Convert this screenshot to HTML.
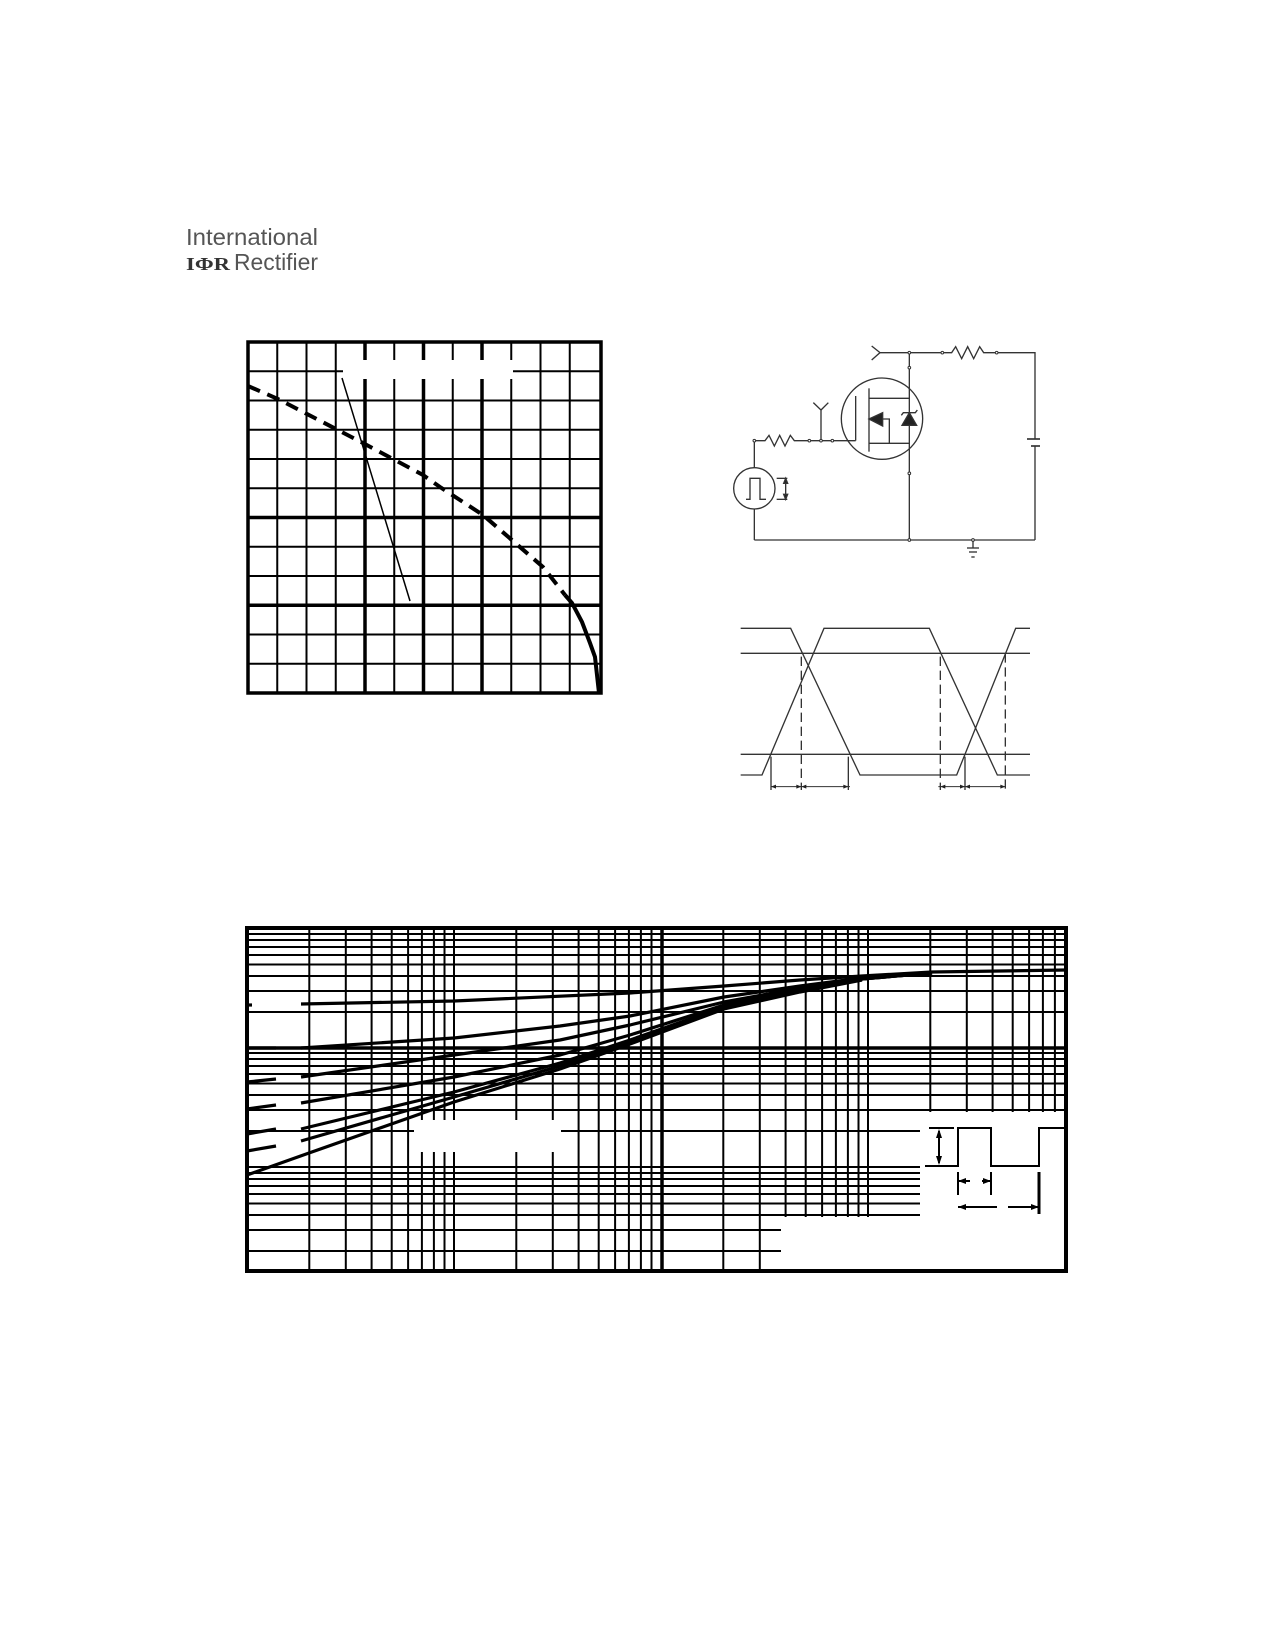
<!DOCTYPE html>
<html><head><meta charset="utf-8"><style>html,body{margin:0;padding:0;background:#fff}svg{display:block}</style></head>
<body>
<svg width="1275" height="1650" viewBox="0 0 1275 1650" xmlns="http://www.w3.org/2000/svg">
<rect width="1275" height="1650" fill="#fff"/>
<!-- Logo -->
<text x="186" y="245" font-family="Liberation Sans, sans-serif" font-size="23" fill="#555" textLength="132" lengthAdjust="spacingAndGlyphs">International</text>
<text x="186" y="270" font-family="Liberation Serif, serif" font-weight="bold" font-size="18" fill="#333" textLength="44" lengthAdjust="spacingAndGlyphs">IΦR</text>
<text x="234" y="270" font-family="Liberation Sans, sans-serif" font-size="23" fill="#555" textLength="84" lengthAdjust="spacingAndGlyphs">Rectifier</text>

<!-- Top-left chart -->
<g stroke="#000" fill="none">
<g stroke-width="2">
<line x1="277.25" y1="342" x2="277.25" y2="693"/><line x1="306.5" y1="342" x2="306.5" y2="693"/><line x1="335.75" y1="342" x2="335.75" y2="693"/>
<line x1="394.25" y1="342" x2="394.25" y2="693"/><line x1="452.75" y1="342" x2="452.75" y2="693"/><line x1="511.25" y1="342" x2="511.25" y2="693"/>
<line x1="540.5" y1="342" x2="540.5" y2="693"/><line x1="569.75" y1="342" x2="569.75" y2="693"/>
<line x1="248" y1="371.25" x2="601" y2="371.25"/><line x1="248" y1="400.5" x2="601" y2="400.5"/><line x1="248" y1="429.75" x2="601" y2="429.75"/>
<line x1="248" y1="459" x2="601" y2="459"/><line x1="248" y1="488.25" x2="601" y2="488.25"/><line x1="248" y1="546.75" x2="601" y2="546.75"/>
<line x1="248" y1="576" x2="601" y2="576"/><line x1="248" y1="634.5" x2="601" y2="634.5"/><line x1="248" y1="663.75" x2="601" y2="663.75"/>
</g>
<g stroke-width="3.5">
<line x1="365" y1="342" x2="365" y2="693"/><line x1="423.5" y1="342" x2="423.5" y2="693"/><line x1="482" y1="342" x2="482" y2="693"/>
<line x1="248" y1="517.5" x2="601" y2="517.5"/><line x1="248" y1="605.25" x2="601" y2="605.25"/>
</g>
<rect x="343" y="360" width="170" height="19" fill="#fff" stroke="none"/>
<rect x="248" y="342" width="353" height="351" stroke-width="3.5"/>
<line x1="342" y1="378" x2="410" y2="601" stroke-width="1.5"/>
<polyline points="248,386 278,399 363,443 423,475 440,487 483,515 543,567 565,595" stroke-width="4" stroke-dasharray="13,8"/>
<polyline points="565,595 572,603 582,622 590,643 595,657 599,693" stroke-width="4"/>
</g>

<!-- Circuit -->
<g transform="translate(690,320) scale(0.33333)" stroke="#333" fill="none" stroke-width="4">
<polyline points="545,78 570,98 545,120"/>
<line x1="570" y1="98" x2="757" y2="98"/>
<polyline points="757,98 785,98 797,80 815,116 833,80 851,116 869,80 881,98 920,98 1035,98 1035,357"/>
<line x1="1035" y1="378" x2="1035" y2="660"/>
<line x1="1011" y1="357" x2="1050" y2="357" stroke-width="5"/>
<line x1="1023" y1="378" x2="1050" y2="378" stroke-width="5"/>
<line x1="658" y1="98" x2="658" y2="660"/>
<line x1="193" y1="660" x2="1035" y2="660"/>
<line x1="849" y1="660" x2="849" y2="684"/>
<line x1="831" y1="684" x2="867" y2="684"/><line x1="837" y1="696" x2="861" y2="696"/><line x1="844" y1="711" x2="854" y2="711"/>
<circle cx="576" cy="296" r="122"/>
<line x1="497" y1="228" x2="497" y2="362"/>
<line x1="537" y1="205" x2="537" y2="395"/>
<line x1="537" y1="235" x2="658" y2="235"/>
<line x1="537" y1="370" x2="658" y2="370"/>
<polygon points="537,297 578,278 578,318" fill="#222"/>
<polyline points="578,297 598,297 598,370"/>
<polygon points="658,278 636,316 680,316" fill="#222"/>
<polyline points="634,286 640,278 676,278 682,270"/>
<polyline points="193,443 193,362 225,362 237,346 253,378 269,346 285,378 301,346 313,362 497,362"/>
<polyline points="393,362 393,270 370,248"/><line x1="393" y1="270" x2="415" y2="248"/>
<circle cx="193" cy="505" r="62"/>
<line x1="193" y1="567" x2="193" y2="660"/>
<polyline points="168,538 180,538 180,475 210,475 210,538 228,538"/>
<line x1="260" y1="475" x2="292" y2="475"/><line x1="260" y1="538" x2="292" y2="538"/>
<line x1="287" y1="485" x2="287" y2="528"/>
<polygon points="287,475 281,490 293,490" fill="#222"/><polygon points="287,538 281,523 293,523" fill="#222"/>
<g fill="#fff" stroke-width="3">
<circle cx="658" cy="98" r="4"/><circle cx="757" cy="98" r="4"/><circle cx="920" cy="98" r="4"/>
<circle cx="658" cy="143" r="4"/><circle cx="658" cy="460" r="4"/><circle cx="658" cy="660" r="4"/><circle cx="849" cy="660" r="4"/>
<circle cx="193" cy="362" r="4"/><circle cx="358" cy="362" r="4"/><circle cx="393" cy="362" r="4"/><circle cx="427" cy="362" r="4"/>
</g>
</g>

<!-- Switching waveform -->
<g transform="translate(720,600) scale(0.33333)" stroke="#333" fill="none" stroke-width="4">
<line x1="62" y1="160" x2="930" y2="160"/><line x1="62" y1="463" x2="930" y2="463"/>
<polyline points="62,85 212,85 420,525 710,525 887,85 930,85"/>
<polyline points="62,525 126,525 312,85 628,85 832,525 930,525"/>
<g stroke-dasharray="28,14">
<line x1="244" y1="170" x2="244" y2="570"/><line x1="661" y1="170" x2="661" y2="570"/><line x1="856" y1="160" x2="856" y2="570"/>
</g>
<line x1="153" y1="470" x2="153" y2="570"/><line x1="385" y1="470" x2="385" y2="570"/><line x1="735" y1="470" x2="735" y2="570"/>
<line x1="153" y1="560" x2="856" y2="560" stroke-width="3"/>
<rect x="390" y="550" width="265" height="20" fill="#fff" stroke="none"/>
<g fill="#222" stroke="none">
<polygon points="153,560 168,554 168,566"/><polygon points="244,560 229,554 229,566"/>
<polygon points="244,560 259,554 259,566"/><polygon points="385,560 370,554 370,566"/>
<polygon points="661,560 676,554 676,566"/><polygon points="735,560 720,554 720,566"/>
<polygon points="735,560 750,554 750,566"/><polygon points="856,560 841,554 841,566"/>
</g>
</g>

<!-- Bottom chart -->
<g stroke="#000" fill="none" stroke-width="2">
<g>
<line x1="309.3" y1="928" x2="309.3" y2="1271"/><line x1="345.8" y1="928" x2="345.8" y2="1271"/><line x1="371.6" y1="928" x2="371.6" y2="1271"/><line x1="391.7" y1="928" x2="391.7" y2="1271"/><line x1="408.1" y1="928" x2="408.1" y2="1271"/><line x1="421.9" y1="928" x2="421.9" y2="1271"/><line x1="433.9" y1="928" x2="433.9" y2="1271"/><line x1="444.5" y1="928" x2="444.5" y2="1271"/><line x1="454" y1="928" x2="454" y2="1271"/>
<line x1="516.3" y1="928" x2="516.3" y2="1271"/><line x1="552.8" y1="928" x2="552.8" y2="1271"/><line x1="578.6" y1="928" x2="578.6" y2="1271"/><line x1="598.7" y1="928" x2="598.7" y2="1271"/><line x1="615.1" y1="928" x2="615.1" y2="1271"/><line x1="628.9" y1="928" x2="628.9" y2="1271"/><line x1="640.9" y1="928" x2="640.9" y2="1271"/><line x1="651.5" y1="928" x2="651.5" y2="1271"/>
<line x1="723.3" y1="928" x2="723.3" y2="1271"/><line x1="759.8" y1="928" x2="759.8" y2="1271"/><line x1="785.6" y1="928" x2="785.6" y2="1271"/><line x1="805.7" y1="928" x2="805.7" y2="1271"/><line x1="822.1" y1="928" x2="822.1" y2="1271"/><line x1="835.9" y1="928" x2="835.9" y2="1271"/><line x1="847.9" y1="928" x2="847.9" y2="1271"/><line x1="858.5" y1="928" x2="858.5" y2="1271"/><line x1="868" y1="928" x2="868" y2="1271"/>
<line x1="930.3" y1="928" x2="930.3" y2="1271"/><line x1="966.8" y1="928" x2="966.8" y2="1271"/><line x1="992.6" y1="928" x2="992.6" y2="1271"/><line x1="1012.7" y1="928" x2="1012.7" y2="1271"/><line x1="1029.1" y1="928" x2="1029.1" y2="1271"/><line x1="1042.9" y1="928" x2="1042.9" y2="1271"/><line x1="1054.9" y1="928" x2="1054.9" y2="1271"/>
<line x1="662" y1="928" x2="662" y2="1271" stroke-width="3.5"/>
</g>
<g>
<line x1="247" y1="1012" x2="1066" y2="1012"/><line x1="247" y1="991" x2="1066" y2="991"/><line x1="247" y1="976" x2="1066" y2="976"/><line x1="247" y1="964.5" x2="1066" y2="964.5"/><line x1="247" y1="955" x2="1066" y2="955"/><line x1="247" y1="947" x2="1066" y2="947"/><line x1="247" y1="940" x2="1066" y2="940"/><line x1="247" y1="934" x2="1066" y2="934"/>
<line x1="247" y1="1131" x2="1066" y2="1131"/><line x1="247" y1="1110" x2="1066" y2="1110"/><line x1="247" y1="1095" x2="1066" y2="1095"/><line x1="247" y1="1083.5" x2="1066" y2="1083.5"/><line x1="247" y1="1074" x2="1066" y2="1074"/><line x1="247" y1="1066" x2="1066" y2="1066"/><line x1="247" y1="1059" x2="1066" y2="1059"/><line x1="247" y1="1053" x2="1066" y2="1053"/>
<line x1="247" y1="1167" x2="1066" y2="1167"/>
<line x1="247" y1="1251" x2="1066" y2="1251"/><line x1="247" y1="1230" x2="1066" y2="1230"/><line x1="247" y1="1215" x2="1066" y2="1215"/><line x1="247" y1="1203.5" x2="1066" y2="1203.5"/><line x1="247" y1="1194" x2="1066" y2="1194"/><line x1="247" y1="1186" x2="1066" y2="1186"/><line x1="247" y1="1179" x2="1066" y2="1179"/><line x1="247" y1="1173" x2="1066" y2="1173"/>
<line x1="247" y1="1048" x2="1066" y2="1048" stroke-width="3.5"/>
</g>
<g fill="#fff" stroke="none">
<rect x="920" y="1112" width="146" height="159"/>
<rect x="781" y="1217" width="285" height="54"/>
<rect x="414" y="1120" width="147" height="32"/>
</g>
<g stroke-width="3.2" stroke-linejoin="round" stroke-linecap="butt">
<polyline points="301,1004 454,1001 630,993 724,986 800,980 862,976 932,972 1066,970"/>
<polyline points="301,1048 454,1038 560,1026 630,1016 724,997 800,986 862,978 932,973"/>
<polyline points="301,1077 454,1055 560,1040 630,1025 724,1002 800,988 862,979 932,973"/>
<polyline points="301,1103 454,1077 560,1055 630,1035 724,1005 800,989 862,979 932,973"/>
<polyline points="301,1129 454,1092 560,1063 630,1040 724,1007 800,990 862,979 932,973"/>
<polyline points="301,1141 454,1097 560,1066 630,1042 724,1008 800,991 862,979"/>
<polyline points="247,1175 309,1153 454,1102 560,1069 630,1044 724,1009 800,992 862,980"/>
<line x1="247" y1="1005" x2="252" y2="1005"/>
<line x1="247" y1="1048" x2="276" y2="1048"/>
<line x1="247" y1="1082" x2="276" y2="1079"/>
<line x1="247" y1="1109" x2="276" y2="1105"/>
<line x1="247" y1="1134" x2="276" y2="1129"/>
<line x1="247" y1="1151" x2="276" y2="1146"/>
</g>
<g stroke-width="2">
<polyline points="925,1166 958,1166 958,1128 991,1128 991,1166 1039,1166 1039,1128 1066,1128"/>
<line x1="929" y1="1128" x2="954" y2="1128"/>
<line x1="939" y1="1131" x2="939" y2="1163"/>
<line x1="958" y1="1172" x2="958" y2="1195"/><line x1="991" y1="1172" x2="991" y2="1195"/>
<line x1="1039" y1="1172" x2="1039" y2="1214" stroke-width="3"/>
<line x1="958" y1="1181" x2="970" y2="1181"/><line x1="982" y1="1181" x2="991" y2="1181"/>
<line x1="958" y1="1207" x2="997" y2="1207"/><line x1="1008" y1="1207" x2="1039" y2="1207"/>
</g>
<g fill="#000" stroke="none">
<polygon points="939,1129 936,1138 942,1138"/><polygon points="939,1165 936,1156 942,1156"/>
<polygon points="958,1181 966,1178 966,1184"/><polygon points="991,1181 983,1178 983,1184"/>
<polygon points="958,1207 966,1204 966,1210"/><polygon points="1039,1207 1031,1204 1031,1210"/>
</g>
<rect x="247" y="928" width="819" height="343" stroke-width="4"/>
</g>
</svg>
</body></html>
